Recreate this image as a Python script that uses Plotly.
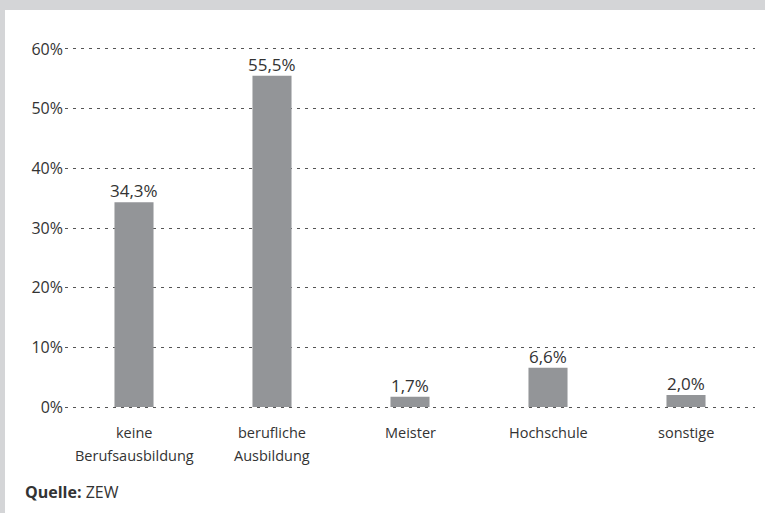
import plotly.graph_objects as go

# Data
categories = ["keine Berufsausbildung", "berufliche Ausbildung", "Meister", "Hochschule", "sonstige"]
category_lines = [["keine", "Berufsausbildung"], ["berufliche", "Ausbildung"], ["Meister"], ["Hochschule"], ["sonstige"]]
values = [34.3, 55.5, 1.7, 6.6, 2.0]
value_labels = ["34,3%", "55,5%", "1,7%", "6,6%", "2,0%"]
y_ticks = [0, 10, 20, 30, 40, 50, 60]
y_tick_labels = ["0%", "10%", "20%", "30%", "40%", "50%", "60%"]
source_text = "<b>Quelle:</b> ZEW"

W, H = 765, 513
ML, MR, MT, MB = 65, 10, 46, 103
PW, PH = W - ML - MR, H - MT - MB

FONT = "Open Sans"
TXT = "#333333"
BAR = "#939598"
FRAME = "#d4d5d7"


def px_x(x):
    return (x - ML) / PW


def px_y(y):
    return (H - MB - y) / PH


fig = go.Figure()
fig.add_trace(go.Bar(
    x=categories,
    y=values,
    marker=dict(color=BAR, line=dict(width=0)),
    width=0.283,
    hoverinfo="skip",
))

# value labels above the bars
for cat, v, lab in zip(categories, values, value_labels):
    fig.add_annotation(x=cat, y=v, xref="x", yref="y", text=lab,
                       showarrow=False, yanchor="bottom", yshift=-2,
                       font=dict(family=FONT, size=17, color=TXT))

# category labels below the axis, one annotation per line
line_y = [432, 455]
for cat, lines in zip(categories, category_lines):
    for i, ln in enumerate(lines):
        fig.add_annotation(x=cat, y=px_y(line_y[i]), xref="x", yref="paper",
                           text=ln, showarrow=False, yanchor="middle",
                           font=dict(family=FONT, size=14.5, color=TXT))

# light-grey frame along the top and left edges
fig.add_shape(type="rect", xref="paper", yref="paper",
              x0=px_x(0), x1=px_x(W), y0=px_y(10), y1=px_y(0),
              fillcolor=FRAME, line=dict(width=0), layer="below")
fig.add_shape(type="rect", xref="paper", yref="paper",
              x0=px_x(0), x1=px_x(5), y0=px_y(H), y1=px_y(0),
              fillcolor=FRAME, line=dict(width=0), layer="below")

fig.add_annotation(text=source_text, xref="paper", yref="paper",
                   x=px_x(23), y=px_y(492), xanchor="left", yanchor="middle",
                   showarrow=False, font=dict(family=FONT, size=16, color=TXT))

fig.update_layout(
    width=W, height=H,
    margin=dict(l=ML, r=MR, t=MT, b=MB, pad=0),
    paper_bgcolor="white",
    plot_bgcolor="white",
    showlegend=False,
    font=dict(family=FONT, color=TXT, size=14),
    xaxis=dict(
        range=[-0.5, 4.5],
        showgrid=False, zeroline=False, showline=False, ticks="",
        showticklabels=False,
        fixedrange=True,
    ),
    yaxis=dict(
        range=[-0.5, 60.5],
        tickvals=y_ticks, ticktext=y_tick_labels,
        showgrid=True, gridcolor="#555555", gridwidth=1.3, griddash="3px,5px",
        zeroline=False, showline=False, ticks="",
        tickfont=dict(family=FONT, size=16, color=TXT),
        ticklabelstandoff=1,
        fixedrange=True,
    ),
)

fig.write_html("out.html")
